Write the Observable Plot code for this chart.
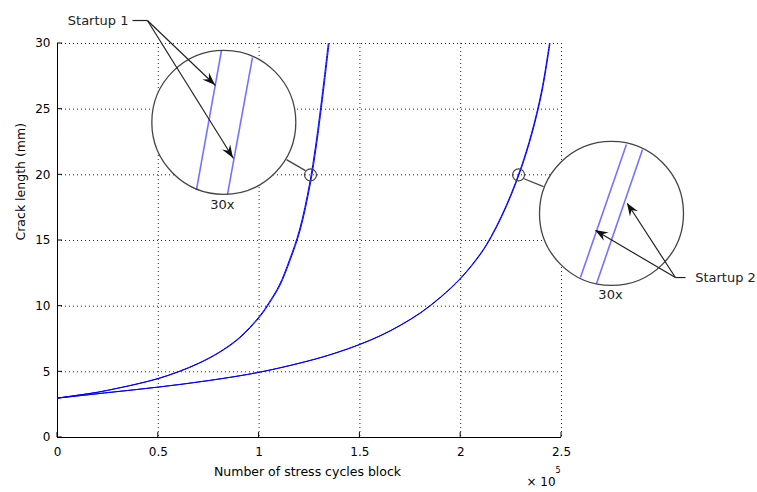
<!DOCTYPE html>
<html>
<head>
<meta charset="utf-8">
<script src="https://cdn.jsdelivr.net/npm/d3@7"></script>
<script src="https://cdn.jsdelivr.net/npm/@observablehq/plot@0.6"></script>
<style>
  html, body { margin: 0; padding: 0; background: #fff; }
  #chart svg { display: block; overflow: visible; }
</style>
</head>
<body>
<div id="chart"></div>
<script>
// ---- Axis ticks ----
const xTicks = [0, 0.5, 1, 1.5, 2, 2.5];          // × 10^5 cycles
const yTicks = [0, 5, 10, 15, 20, 25, 30];        // mm

// ---- Startup 1 (two runs, nearly overlapping) ----
const s1Y  = [3.0, 3.22, 3.45, 3.76, 4.1, 4.5, 5.02, 5.66, 6.48, 7.58, 9.2, 10.3, 11.6, 13.5, 15.8, 19.3, 22.2, 24.5, 27.0, 30.0];
const s1aX = [0, 0.1, 0.2, 0.3, 0.4, 0.5, 0.6, 0.7, 0.8, 0.9, 1.0, 1.05, 1.1, 1.15, 1.2, 1.25, 1.28, 1.3, 1.32, 1.343];
const s1bX = [0, 0.1, 0.201, 0.302, 0.403, 0.504, 0.604, 0.704, 0.804, 0.904, 1.004, 1.054, 1.104, 1.154, 1.204, 1.254, 1.284, 1.304, 1.324, 1.347];

// ---- Startup 2 (two runs, nearly overlapping) ----
const s2Y  = [3.0, 3.42, 3.84, 4.34, 4.97, 5.86, 6.42, 7.1, 7.75, 8.55, 9.5, 10.7, 12.15, 14.05, 15.3, 16.8, 18.55, 20.6, 23.1, 26.3, 30.0];
const s2aX = [0, 0.25, 0.5, 0.75, 1.0, 1.25, 1.375, 1.5, 1.6, 1.7, 1.8, 1.9, 2.0, 2.1, 2.15, 2.2, 2.25, 2.3, 2.35, 2.4, 2.44];
const s2bX = [0, 0.25, 0.502, 0.753, 1.003, 1.253, 1.378, 1.503, 1.603, 1.703, 1.803, 1.903, 2.003, 2.103, 2.153, 2.203, 2.253, 2.303, 2.353, 2.403, 2.443];

// ---- Magnifier annotations (data coordinates) ----
const lensX = [0.825, 2.748];
const lensY = [24.0, 17.06];
const spotX = [1.255, 2.287];
const spotY = [20.0, 20.0];
const zoomLabel = ["30x", "30x"];
const zoomLabelX = [0.818, 2.743];
const zoomLabelY = [17.75, 10.85];
// connectors lens -> spot
const connX1 = [1.136, 2.311], connY1 = [21.16, 19.72];
const connX2 = [1.230, 2.411], connY2 = [20.32, 19.11];
// magnified curve segments inside lenses
const insetX1 = [0.8135, 0.967, 2.822, 2.902];
const insetY1 = [29.47, 28.93, 22.31, 21.93];
const insetX2 = [0.6895, 0.843, 2.594, 2.674];
const insetY2 = [18.88, 18.50, 12.18, 11.73];

// ---- Callouts ----
const callout1 = {t: "Startup 1", x: 0.352, y: 31.75};
const callout2 = {t: "Startup 2", x: 3.163, y: 12.18};
const leaderX1 = [0.372, 3.065], leaderX2 = [0.446, 3.115];
const leaderY  = [31.75, 12.18];
const arrowFromX = [0.446, 0.446, 3.065, 3.065];
const arrowFromY = [31.75, 31.75, 12.18, 12.18];
const arrowToX   = [0.784, 0.873, 2.827, 2.669];
const arrowToY   = [26.80, 21.24, 17.82, 15.76];

// ---- Build tables ----
const rows = (xs, ys) => xs.map((x, i) => ({x, y: ys[i]}));
const curves = [rows(s1aX, s1Y), rows(s1bX, s1Y), rows(s2aX, s2Y), rows(s2bX, s2Y)];
const lenses = rows(lensX, lensY);
const spots = rows(spotX, spotY);
const conns = connX1.map((x1, i) => ({x1, y1: connY1[i], x2: connX2[i], y2: connY2[i]}));
const insets = insetX1.map((x1, i) => ({x1, y1: insetY1[i], x2: insetX2[i], y2: insetY2[i]}));
const zlabels = zoomLabel.map((t, i) => ({t, x: zoomLabelX[i], y: zoomLabelY[i]}));
const leaders = leaderX1.map((x1, i) => ({x1, x2: leaderX2[i], y: leaderY[i]}));
const arrows = arrowFromX.map((x1, i) => ({x1, y1: arrowFromY[i], x2: arrowToX[i], y2: arrowToY[i]}));

// inward tick marks drawn with the plot's scales
function inwardTicks(index, scales) {
  const {x, y} = scales;
  const g = d3.create("svg:g").attr("stroke", "#000").attr("stroke-width", 1).attr("fill", "none");
  const y0 = y(0), x0 = x(0);
  for (const t of xTicks) g.append("line").attr("x1", x(t)).attr("x2", x(t)).attr("y1", y0).attr("y2", y0 - 5);
  for (const t of yTicks) g.append("line").attr("x1", x0).attr("x2", x0 + 5).attr("y1", y(t)).attr("y2", y(t));
  return g.node();
}

// filled MATLAB-style arrowheads
function arrowHeads(index, scales) {
  const {x, y} = scales;
  const g = d3.create("svg:g").attr("fill", "#111").attr("stroke", "none");
  const L = 13, W = 4.8, N = 8.5;
  for (const a of arrows) {
    const px1 = x(a.x1), py1 = y(a.y1), px2 = x(a.x2), py2 = y(a.y2);
    const dx = px2 - px1, dy = py2 - py1, len = Math.hypot(dx, dy);
    const ux = dx / len, uy = dy / len, nx = -uy, ny = ux;
    const pts = [
      [px2, py2],
      [px2 - L * ux + W * nx, py2 - L * uy + W * ny],
      [px2 - N * ux, py2 - N * uy],
      [px2 - L * ux - W * nx, py2 - L * uy - W * ny]
    ];
    g.append("path").attr("d", "M" + pts.map(p => p.join(",")).join("L") + "Z");
  }
  return g.node();
}

const fmt = d => String(d);

const chart = Plot.plot({
  width: 757,
  height: 492,
  marginLeft: 57,
  marginRight: 196,
  marginTop: 43,
  marginBottom: 55,
  style: {fontFamily: "DejaVu Sans, sans-serif", fontSize: "12px", color: "#000", background: "#fff"},
  x: {domain: [0, 2.5]},
  y: {domain: [0, 30]},
  marks: [
    Plot.gridX(xTicks.filter(t => t > 0), {stroke: "#000", strokeOpacity: 0.85, strokeDasharray: "1,3"}),
    Plot.gridY(yTicks.filter(t => t > 0), {stroke: "#000", strokeOpacity: 0.85, strokeDasharray: "1,3"}),
    Plot.axisX(xTicks, {tickSize: 0, tickPadding: 10, label: null, fontSize: 12, tickFormat: fmt}),
    Plot.axisY(yTicks, {tickSize: 0, tickPadding: 7, label: null, fontSize: 12, tickFormat: fmt}),
    Plot.ruleX([0], {stroke: "#000"}),
    Plot.ruleY([0], {stroke: "#000"}),
    inwardTicks,
    ...curves.map(c => Plot.line(c, {x: "x", y: "y", stroke: "#0000ff", strokeWidth: 1, curve: "catmull-rom"})),
    Plot.dot(spots, {x: "x", y: "y", r: 6, stroke: "#444", strokeWidth: 1.2, fill: "none"}),
    Plot.link(conns, {x1: "x1", y1: "y1", x2: "x2", y2: "y2", stroke: "#444", strokeWidth: 1.3}),
    Plot.dot(lenses, {x: "x", y: "y", r: 72, stroke: "#444", strokeWidth: 1.3, fill: "#fff"}),
    Plot.link(insets, {x1: "x1", y1: "y1", x2: "x2", y2: "y2", stroke: "#0000ff", strokeOpacity: 0.55, strokeWidth: 1.6}),
    Plot.text(zlabels, {x: "x", y: "y", text: "t", fontSize: 13, fill: "#222"}),
    Plot.link(leaders, {x1: "x1", x2: "x2", y1: "y", y2: "y", stroke: "#222", strokeWidth: 1.2}),
    Plot.link(arrows, {x1: "x1", y1: "y1", x2: "x2", y2: "y2", stroke: "#222", strokeWidth: 1.2}),
    arrowHeads,
    Plot.text([callout1], {x: "x", y: "y", text: "t", textAnchor: "end", fontSize: 13, fill: "#222"}),
    Plot.text([callout2], {x: "x", y: "y", text: "t", textAnchor: "start", fontSize: 13, fill: "#222"}),
    Plot.text(["Crack length (mm)"], {frameAnchor: "left", rotate: -90, dx: -37, fontSize: 12.5}),
    Plot.text(["Number of stress cycles block"], {frameAnchor: "bottom", dx: -2, dy: 38, fontSize: 12.5}),
    Plot.text(["× 10"], {frameAnchor: "bottom-right", textAnchor: "start", dx: -35, dy: 48, fontSize: 12}),
    Plot.text(["5"], {frameAnchor: "bottom-right", dx: -1, dy: 35, fontSize: 8})
  ]
});
document.getElementById("chart").appendChild(chart);
</script>
</body>
</html>
